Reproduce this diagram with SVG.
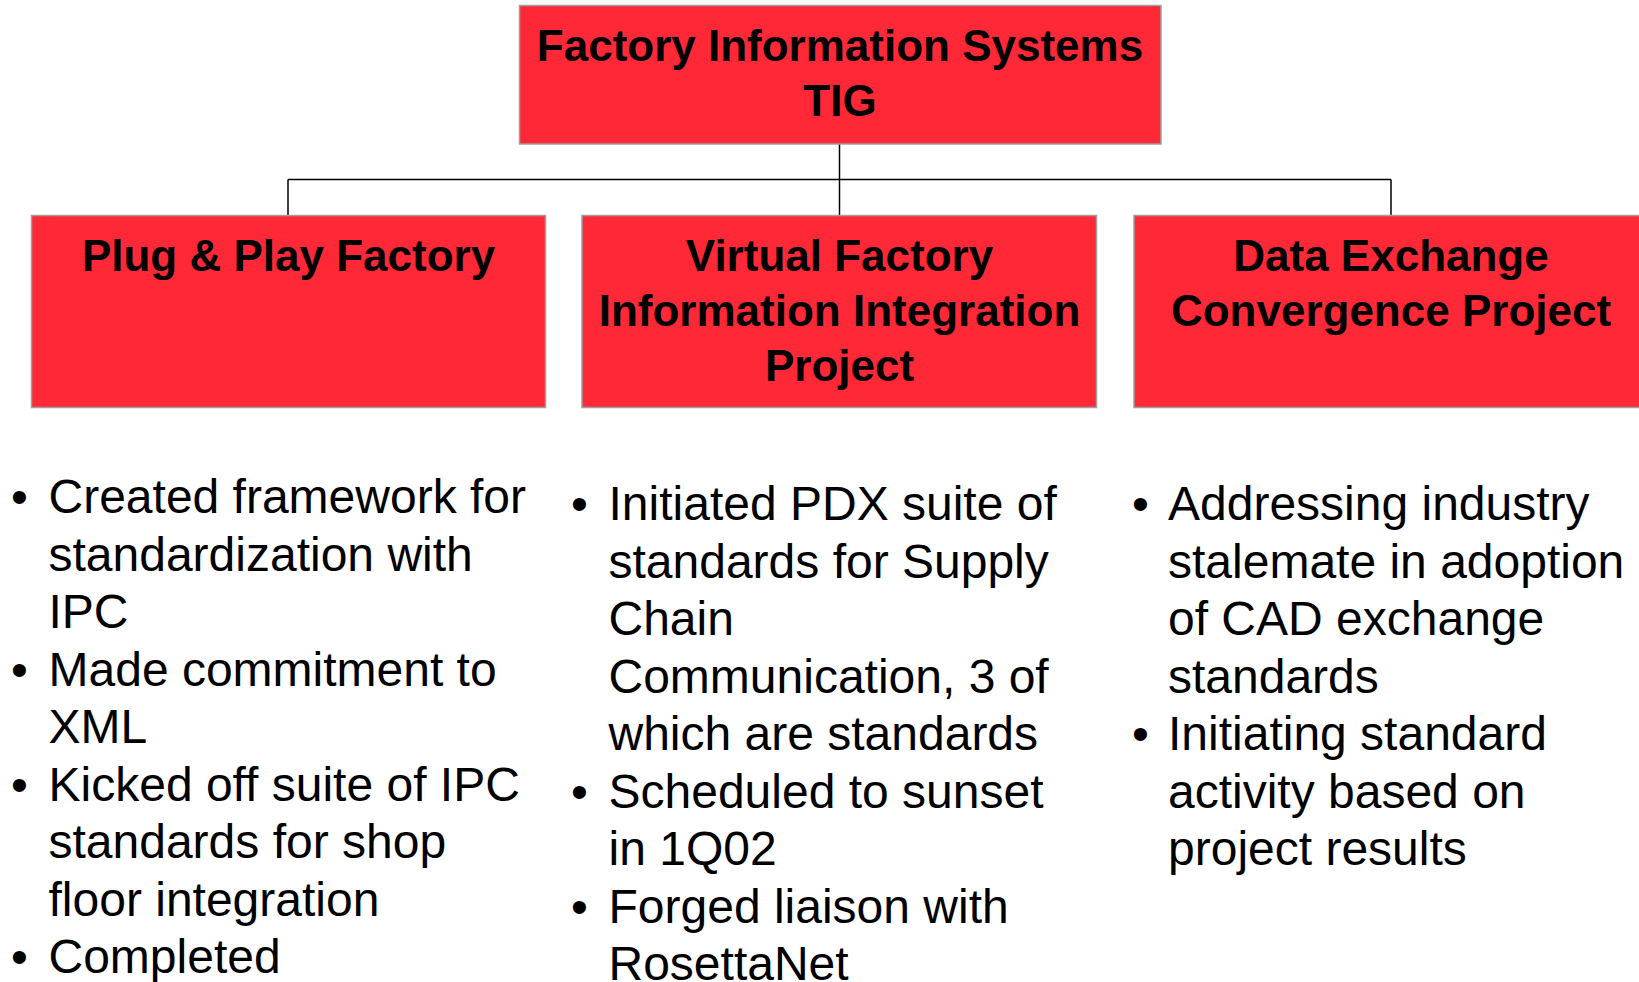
<svg xmlns="http://www.w3.org/2000/svg" width="1639" height="982" viewBox="0 0 1639 982">
<style>
.box{fill:#FF2837;stroke:#A0A0A0;stroke-width:1.5}
.title{font-family:"Liberation Sans",Arial,sans-serif;font-weight:bold;font-size:44px;fill:#000;text-anchor:middle}
.body{font-family:"Liberation Sans",Arial,sans-serif;font-size:48px;fill:#000}
.conn{stroke:#000;stroke-width:1.5;fill:none}
</style>
<rect width="1639" height="982" fill="#fff"/>
<g id="connectors">
<line class="conn" x1="839.5" y1="144" x2="839.5" y2="215.5"/>
<line class="conn" x1="288" y1="179.5" x2="1391" y2="179.5"/>
<line class="conn" x1="288" y1="179.5" x2="288" y2="215.5"/>
<line class="conn" x1="1391" y1="179.5" x2="1391" y2="215.5"/>
</g>
<g id="node-root">
<rect class="box" x="519.5" y="5.5" width="641.5" height="138.5"/>
<text class="title" x="840" y="61">Factory Information Systems</text>
<text class="title" x="840" y="116">TIG</text>
</g>
<g id="node-plug">
<rect class="box" x="31.5" y="215.5" width="514" height="192"/>
<text class="title" x="288.5" y="271">Plug &amp; Play Factory</text>
</g>
<g id="node-virtual">
<rect class="box" x="582" y="215.5" width="514.5" height="192"/>
<text class="title" x="839.5" y="271">Virtual Factory</text>
<text class="title" x="839.5" y="326">Information Integration</text>
<text class="title" x="839.5" y="381">Project</text>
</g>
<g id="node-data">
<rect class="box" x="1134" y="215.5" width="514" height="192"/>
<text class="title" x="1391" y="271">Data Exchange</text>
<text class="title" x="1391" y="326">Convergence Project</text>
</g>
<g id="bullets-plug" class="body">
<text x="11" y="513">•</text>
<text x="48.5" y="513">Created framework for</text>
<text x="48.5" y="570.5">standardization with</text>
<text x="48.5" y="628">IPC</text>
<text x="11" y="685.5">•</text>
<text x="48.5" y="685.5">Made commitment to</text>
<text x="48.5" y="743">XML</text>
<text x="11" y="800.5">•</text>
<text x="48.5" y="800.5">Kicked off suite of IPC</text>
<text x="48.5" y="858">standards for shop</text>
<text x="48.5" y="915.5">floor integration</text>
<text x="11" y="973">•</text>
<text x="48.5" y="973">Completed</text>
</g>
<g id="bullets-virtual" class="body">
<text x="571" y="520">•</text>
<text x="608.5" y="520">Initiated PDX suite of</text>
<text x="608.5" y="577.5">standards for Supply</text>
<text x="608.5" y="635">Chain</text>
<text x="608.5" y="692.5">Communication, 3 of</text>
<text x="608.5" y="750">which are standards</text>
<text x="571" y="807.5">•</text>
<text x="608.5" y="807.5">Scheduled to sunset</text>
<text x="608.5" y="865">in 1Q02</text>
<text x="571" y="922.5">•</text>
<text x="608.5" y="922.5">Forged liaison with</text>
<text x="608.5" y="980">RosettaNet</text>
</g>
<g id="bullets-data" class="body">
<text x="1132" y="520">•</text>
<text x="1168" y="520">Addressing industry</text>
<text x="1168" y="577.5">stalemate in adoption</text>
<text x="1168" y="635">of CAD exchange</text>
<text x="1168" y="692.5">standards</text>
<text x="1132" y="750">•</text>
<text x="1168" y="750">Initiating standard</text>
<text x="1168" y="807.5">activity based on</text>
<text x="1168" y="865">project results</text>
</g>
</svg>
